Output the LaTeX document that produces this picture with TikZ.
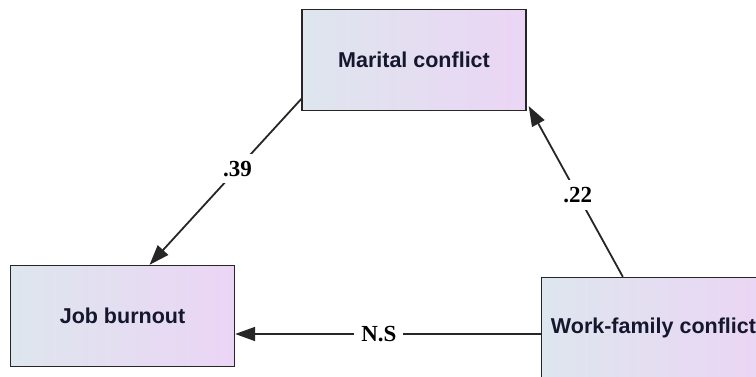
\documentclass[tikz,border=0pt]{standalone}
\usepackage{fontspec}
\setmainfont{Liberation Serif}
\newfontfamily\boxfont{Liberation Sans}
\usetikzlibrary{calc,arrows.meta}
\definecolor{boxleft}{HTML}{DEE6EE}
\definecolor{boxright}{HTML}{EBD5F5}
\definecolor{boxtext}{HTML}{14172E}
\definecolor{linegray}{HTML}{262626}
\tikzset{
  varbox/.style={rectangle, draw=black!85, line width=1.4pt,
    left color=boxleft, right color=boxright,
    minimum width=224pt, minimum height=101pt, inner sep=0pt,
    font=\boxfont\bfseries\fontsize{21.5}{25}\selectfont, text=boxtext},
  path/.style={draw=linegray, line width=1.8pt,
    -{Triangle[length=20pt,width=14pt]}},
  coef/.style={fill=white, inner xsep=7pt, inner ysep=7pt,
    font=\bfseries\fontsize{23}{27}\selectfont, text=black}
}
\begin{document}
\begin{tikzpicture}[x=1pt,y=-1pt]
\useasboundingbox (0,0) rectangle (756,376);
\clip (0,0) rectangle (756,376);
\fill[white] (0,0) rectangle (756,376);
\node[varbox] (mc) at (414,60) {Marital conflict};
\node[varbox] (jb) at (122.5,316) {Job burnout};
\node[varbox] (wf) at (653.5,328) {Work-family conflict};
\coordinate (mcout) at ($(mc.south west)!0.12!(mc.north west)$);
\coordinate (jbin) at ($(jb.north west)!0.62!(jb.north east)$);
\coordinate (wfout) at ($(wf.north west)!0.364!(wf.north east)$);
\coordinate (mcin) at ($(mc.south east)!0.05!(mc.north east)+(2,0)$);
\coordinate (wfleft) at ($(wf.west)+(0,6)$);
\coordinate (jbright) at ($(jb.east)+(0,18)$);
\draw[path] (mcout) -- node[coef, pos=0.42] (l39) {.39} (jbin);
\draw[path] (wfout) -- node[coef, pos=0.48] (l22) {.22} (mcin);
\draw[path] (wfleft) -- node[coef, pos=0.53] (lns) {N.S} (jbright);
\end{tikzpicture}
\end{document}
